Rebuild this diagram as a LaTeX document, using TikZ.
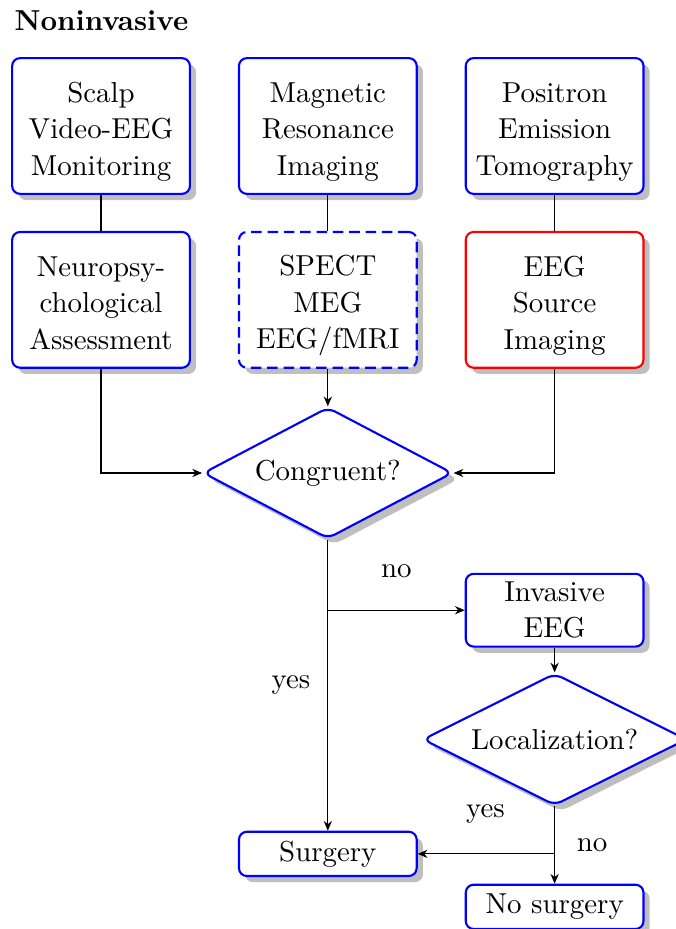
\documentclass[tikz,border=0pt,11pt]{standalone}
\usepackage{tikz}
\usetikzlibrary{positioning, arrows.meta, shapes.geometric, shadows}
\newcommand{\tstrut}{\rule{0pt}{12pt}}
\newcommand{\bstrut}{\rule[-2.2pt]{0pt}{2.2pt}}

\begin{document}
\begin{tikzpicture}[
    node distance=0.48cm and 0.626cm,
    box/.style={draw=blue, thick, rounded corners=3pt, fill=white, align=center,
                font=\fontsize{10.95}{13.8}\selectfont,
                minimum width=2.37cm, minimum height=1.81cm, inner sep=2pt,
                drop shadow},
    pend/.style={box, dash pattern=on 4pt off 2.2pt},
    hot/.style ={box, draw=red},
    small/.style={box, minimum height=0.59cm},
    decide/.style={diamond, aspect=1.9, draw=blue, thick, rounded corners=3pt,
                fill=white, inner sep=3.5pt, drop shadow},
    arr/.style={-{Stealth[length=1.3mm, width=1.1mm]}, thin, draw=black},
    link/.style={thin, draw=black}]

  \useasboundingbox (0,0) rectangle (9.013,-12.387);

  \node[anchor=west, inner sep=0, font=\bfseries] (title) at (0.187,-0.28) {Noninvasive};

  \node[box] (scalp) at (1.347,-1.68) {\tstrut Scalp\\Video-EEG\\Monitoring\bstrut};
  \node[box, right=of scalp] (mri) {\tstrut Magnetic\\Resonance\\Imaging\bstrut};
  \node[box, right=of mri]   (pet) {\tstrut Positron\\Emission\\Tomography\bstrut};
  \node[box, below=of scalp] (neuro) {\tstrut Neuropsy-\\chological\\Assessment\bstrut};
  \node[pend, below=of mri]  (spect) {\tstrut SPECT\\MEG\\EEG/fMRI\bstrut};
  \node[hot, below=of pet]   (esi) {\tstrut EEG\\Source\\Imaging\bstrut};

  \node[decide, below=0.5 of spect]  (cong) {Congruent?};
  \node[small, below=3.88 of cong]   (surg) {Surgery};
  \node[box, minimum height=0.97cm, inner sep=1.5pt, below=2.72 of esi] (inv) {Invasive\\EEG};
  \node[decide, aspect=2, below=0.33 of inv] (loc) {Localization?};
  \node[small, below=1.03 of loc]    (nosurg) {No surgery};

  \draw[link] (scalp) -- (neuro);
  \draw[link] (mri) -- (spect);
  \draw[link] (pet) -- (esi);

  \draw[arr] (spect) -- (cong);
  \draw[arr] (neuro.south) |- (cong.west);
  \draw[arr] (esi.south) |- (cong.east);

  \draw[arr] (cong) -- node[midway, left=0.1cm] {yes} (surg);
  \draw[arr] (cong.south |- inv.west) -- node[midway, above=0.3cm] {no} (inv.west);

  \draw[arr] (inv) -- (loc);
  \draw[arr] (loc) -- node[pos=0.1, left=0.53cm] {yes}
                      node[pos=0.5, right=0.16cm] {no} (nosurg);
  \draw[arr] (loc.south |- surg.east) -- (surg.east);
\end{tikzpicture}
\end{document}
